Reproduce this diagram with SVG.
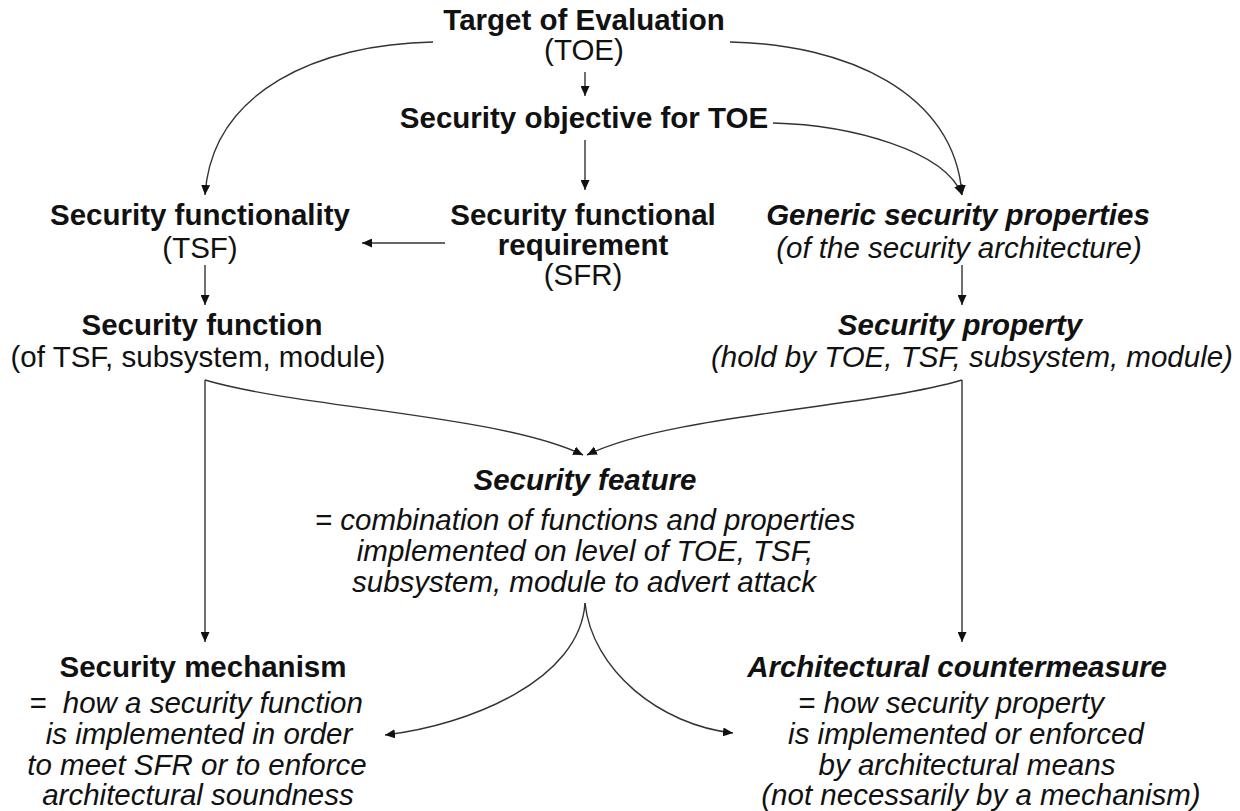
<svg xmlns="http://www.w3.org/2000/svg" width="1240" height="811" viewBox="0 0 1240 811">
<defs>
<marker id="ah" markerUnits="userSpaceOnUse" markerWidth="11" markerHeight="9" refX="10" refY="4.5" orient="auto">
<path d="M0,0 L10,4.5 L0,9 Z" fill="#111"/>
</marker>
<style>
text{font-family:"Liberation Sans",Arial,sans-serif;font-size:29.5px;fill:#111;text-anchor:middle}
.b{font-weight:bold}
.i{font-style:italic}
.bi{font-weight:bold;font-style:italic}
.c{fill:none;stroke:#333;stroke-width:1.4;marker-end:url(#ah)}
</style>
</defs>
<rect width="1240" height="811" fill="#fff"/>
<g id="connectors">
<path class="c" d="M433,42 C320,44 212,90 205,195"/>
<path class="c" d="M730,42 C845,44 955,92 962,195"/>
<path class="c" d="M773,123 C850,125 945,150 962,195"/>
<path class="c" d="M585,72 L585,96"/>
<path class="c" d="M585,140 L585,190"/>
<path class="c" d="M445,243 L362,243"/>
<path class="c" d="M205,265 L205,305"/>
<path class="c" d="M962,265 L962,305"/>
<path class="c" d="M205,380 C300,408 500,415 583,455"/>
<path class="c" d="M962,380 C867,408 668,415 587,455"/>
<path class="c" d="M205,380 L205,642"/>
<path class="c" d="M962,380 L962,642"/>
<path class="c" d="M585,603 C580,680 470,725 385,735"/>
<path class="c" d="M585,603 C592,670 660,725 733,733"/>
</g>
<g id="toe"><text class="b" x="584" y="30">Target of Evaluation</text><text x="584" y="60">(TOE)</text></g>
<g id="objective"><text class="b" x="584" y="128">Security objective for TOE</text></g>
<g id="sfr"><text class="b" x="583" y="225">Security functional</text><text class="b" x="583" y="255">requirement</text><text x="583" y="285">(SFR)</text></g>
<g id="tsf"><text class="b" x="200" y="225">Security functionality</text><text x="200" y="258">(TSF)</text></g>
<g id="generic"><text class="bi" x="958" y="225">Generic security properties</text><text class="i" x="959" y="258">(of the security architecture)</text></g>
<g id="function"><text class="b" x="202" y="335">Security function</text><text x="198" y="367">(of TSF, subsystem, module)</text></g>
<g id="property"><text class="bi" x="960" y="335">Security property</text><text class="i" x="972" y="367">(hold by TOE, TSF, subsystem, module)</text></g>
<g id="feature"><text class="bi" x="585" y="490">Security feature</text><text class="i" x="585" y="530">= combination of functions and properties</text><text class="i" x="585" y="561">implemented on level of TOE, TSF,</text><text class="i" x="584" y="592">subsystem, module to advert attack</text></g>
<g id="mechanism"><text class="b" x="203" y="677">Security mechanism</text><text class="i" x="196" y="713" style="white-space:pre">=  how a security function</text><text class="i" x="199" y="744">is implemented in order</text><text class="i" x="197" y="775">to meet SFR or to enforce</text><text class="i" x="198" y="805">architectural soundness</text></g>
<g id="countermeasure"><text class="bi" x="957" y="677">Architectural countermeasure</text><text class="i" x="951" y="713">= how security property</text><text class="i" x="966" y="744">is implemented or enforced</text><text class="i" x="967" y="775">by architectural means</text><text class="i" x="981" y="805">(not necessarily by a mechanism)</text></g>
</svg>
